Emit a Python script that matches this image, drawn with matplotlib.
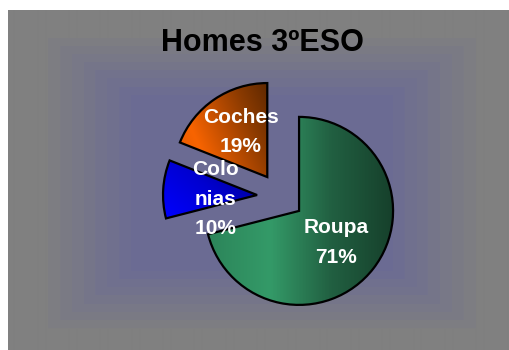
import numpy as np
import matplotlib.pyplot as plt
from matplotlib.colors import LinearSegmentedColormap, to_rgb

plt.rcParams['font.family'] = ['Liberation Sans', 'DejaVu Sans']

title = "Homes 3ºESO"
categories = ["Roupa", "Colonias", "Coches"]
shares = [71, 10, 19]
label_text = ["Roupa", "Colo\nnias", "Coches"]

# per-slice gradient: (stops, direction in degrees)
gradients = [
    (["#2c855a", "#349a68", "#215f41", "#16402b"], 0),
    (["#0000ff", "#0000d0", "#000080"], 35),
    (["#e05800", "#f86400", "#c04e00", "#8a3a00", "#5e2800"], 25),
]
# small label nudges in pixels (x right, y up)
label_nudge = [(0, -3), (5, -7), (0, 6)]

W, H = 509, 350
R = 94.0  # pie radius in pixels; data units are radii


def px(v):
    return v / R


fig = plt.figure(figsize=(W / 100, H / 100), dpi=100)
fig.patch.set_facecolor("white")
ax = fig.add_axes([0, 0, 1, 1])
ax.set_axis_off()

# chart area: grey with a bluish rectangular glow toward the middle
gx0, gx1, gy0, gy1 = 8, W, 0, H - 10
xs = np.linspace(gx0, gx1, 500)
ys = np.linspace(gy0, gy1, 340)
XX, YY = np.meshgrid(xs, ys)
cx, cy = 262, H - 183
d = np.maximum(np.abs(XX - cx) / 226, np.abs(YY - cy) / 153)
t = np.clip((d - 0.58) / 0.42, 0, 1)
t = np.ceil(t * 8) / 8
inner = np.array([0.42, 0.42, 0.58])
outer = np.array(to_rgb("#808080"))
bg = inner[None, None, :] + t[..., None] * (outer - inner)[None, None, :]
ax.imshow(bg, extent=(px(gx0), px(gx1), px(gy0), px(gy1)), origin="lower",
          interpolation="bilinear", zorder=0)

wedges, texts = ax.pie(
    shares,
    labels=[f"{n}\n{v}%" for n, v in zip(label_text, shares)],
    explode=[0.25, 0.25, 0.25],
    startangle=90,
    counterclock=False,
    center=(px(280.5), px(H - 196.5)),
    radius=1.0,
    labeldistance=0.5,
    wedgeprops=dict(facecolor="none", edgecolor="black", linewidth=1.6, zorder=3),
    textprops=dict(color="white", fontsize=15, fontweight="bold",
                   ha="center", va="center", linespacing=1.7, zorder=4),
    frame=True,
)
for txt, (nx, ny) in zip(texts, label_nudge):
    x, y = txt.get_position()
    txt.set_position((x + px(nx), y + px(ny)))

# gradient fills clipped to each wedge
for w, (stops, ang) in zip(wedges, gradients):
    ext = w.get_path().get_extents()
    gxs = np.linspace(0, 1, 200)
    GX, GY = np.meshgrid(gxs, gxs)
    a = np.deg2rad(ang)
    g = np.cos(a) * GX + np.sin(a) * GY
    g = (g - g.min()) / (g.max() - g.min())
    cmap = LinearSegmentedColormap.from_list("w", stops)
    im = ax.imshow(g, cmap=cmap, extent=(ext.x0, ext.x1, ext.y0, ext.y1),
                   origin="lower", interpolation="bilinear", zorder=2)
    im.set_clip_path(w)

ax.text(px(262), px(H - 43), title, ha="center", va="center",
        fontsize=22, fontweight="bold", color="black", zorder=5)

ax.set_xlim(0, px(W))
ax.set_ylim(0, px(H))
ax.set_aspect("equal")
ax.set_axis_off()

fig.savefig("out.png", dpi=100, facecolor=fig.get_facecolor())
